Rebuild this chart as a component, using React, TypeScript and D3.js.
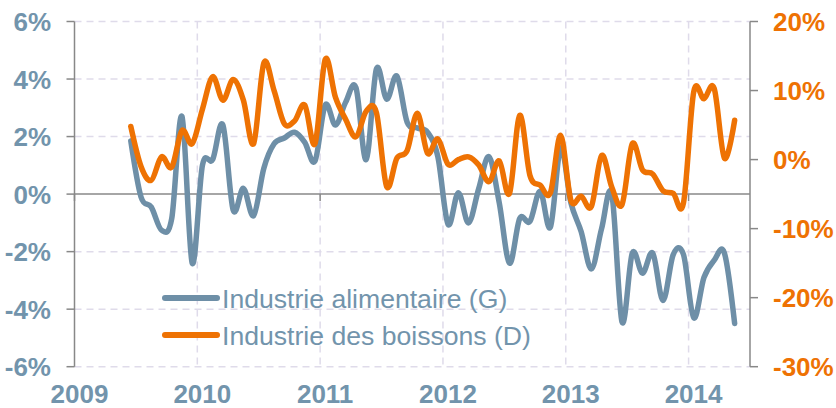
import React from "react";
import * as d3 from "d3";

const years = ["2009", "2010", "2011", "2012", "2013", "2014"];
const leftTicks = [-6, -4, -2, 0, 2, 4, 6];
const rightTicks = [-30, -20, -10, 0, 10, 20];
const seriesNames = ["Industrie alimentaire (G)", "Industrie des boissons (D)"];
// monthly, 2009-06 .. 2014-05
const alimentaire = [1.85, -0.1, -0.45, -1.25, -0.85, 2.7, -2.4, 1.0, 1.2, 2.4, -0.55, 0.2, -0.75, 0.9, 1.75, 1.95, 2.15, 1.8, 1.15, 3.1, 2.4, 3.2, 3.7, 1.2, 4.35, 3.3, 4.1, 2.5, 2.3, 2.15, 1.3, -1.05, 0.05, -1.0, 0.2, 1.3, -0.3, -2.4, -0.85, -0.95, 0.1, -1.15, 1.6, -0.3, -1.3, -2.6, -1.2, 0.0, -4.45, -2.05, -2.75, -2.05, -3.7, -2.1, -2.1, -4.3, -2.9, -2.3, -2.05, -4.5];
const boissons = [4.8, -1.0, -3.0, 0.4, -1.1, 4.2, 2.3, 7.3, 12.0, 8.6, 11.6, 8.6, 2.3, 14.0, 10.0, 5.2, 5.6, 7.9, 2.3, 14.5, 9.0, 5.8, 3.3, 7.0, 6.8, -3.9, 0.2, 1.3, 6.7, 0.9, 3.0, -0.7, 0.0, 0.4, -0.8, -3.2, -0.2, -4.9, 6.4, -2.3, -3.7, -4.8, 3.5, -5.9, -5.3, -6.8, 0.6, -4.0, -6.5, 2.3, -1.5, -2.1, -4.5, -4.9, -6.3, 9.8, 8.8, 10.3, 0.2, 5.7];
const startMonthOffset = 5; // June 2009

const BLUE = "#6e8fa7";
const BLUE_TXT = "#7294ac";
const ORANGE = "#ee7203";
const GRID = "#dfdbea";
const AXIS = "#888888";

export default function App() {
  const x = d3.scaleLinear().domain([0, 66]).range([74.5, 750]);
  const yL = d3.scaleLinear().domain([-6, 6]).range([366.7, 21.5]);
  const yR = d3.scaleLinear().domain([-30, 20]).range([366.7, 21.5]);
  const curve = d3.curveCardinal.tension(0);
  const lineL = d3
    .line<number>()
    .x((_, i) => x(startMonthOffset + i + 0.5))
    .y((d) => yL(d))
    .curve(curve);
  const lineR = d3
    .line<number>()
    .x((_, i) => x(startMonthOffset + i + 0.5))
    .y((d) => yR(d))
    .curve(curve);
  const font = "Liberation Sans, Arial, sans-serif";
  const x0 = x(0);
  const x1 = x(66);

  return (
    <svg
      width={836}
      height={408}
      style={{ position: "absolute", left: 0, top: 0, display: "block" }}
      fontFamily={font}
    >
      <rect width={836} height={408} fill="#fff" />
      {leftTicks
        .filter((t) => t !== 0)
        .map((t) => (
          <line key={"hg" + t} x1={x0} x2={x1} y1={yL(t)} y2={yL(t)} stroke={GRID} strokeWidth={1.5} strokeDasharray="7,5" />
        ))}
      {years.slice(1).map((_, i) => (
        <line key={"vg" + i} x1={x((i + 1) * 12)} x2={x((i + 1) * 12)} y1={yL(6)} y2={yL(-6)} stroke={GRID} strokeWidth={1.5} strokeDasharray="7,5" />
      ))}
      <line x1={x0} x2={x1} y1={yL(0)} y2={yL(0)} stroke={AXIS} strokeWidth={1.5} />
      {years.map((_, i) => (
        <line key={"xt" + i} x1={x(i * 12)} x2={x(i * 12)} y1={yL(0)} y2={yL(0) + 7} stroke={AXIS} strokeWidth={1.5} />
      ))}
      <line x1={x0} x2={x0} y1={yL(6)} y2={yL(-6)} stroke={AXIS} strokeWidth={1.5} />
      {leftTicks.map((t) => (
        <g key={"lt" + t}>
          <line x1={x0 - 8} x2={x0} y1={yL(t)} y2={yL(t)} stroke={AXIS} strokeWidth={1.5} />
          <text x={51} y={yL(t) + 9.5} textAnchor="end" fontSize={26} fontWeight="bold" fill={BLUE_TXT}>
            {t + "%"}
          </text>
        </g>
      ))}
      <line x1={x1} x2={x1} y1={yR(20)} y2={yR(-30)} stroke={AXIS} strokeWidth={1.5} />
      {rightTicks.map((t) => (
        <g key={"rt" + t}>
          <line x1={x1} x2={x1 + 8} y1={yR(t)} y2={yR(t)} stroke={AXIS} strokeWidth={1.5} />
          <text x={773} y={yR(t) + 9.5} textAnchor="start" fontSize={26} fontWeight="bold" fill={ORANGE}>
            {t + "%"}
          </text>
        </g>
      ))}
      {years.map((yr, i) => (
        <text key={yr} x={x(i * 12) + 5} y={403} textAnchor="middle" fontSize={26} fontWeight="bold" fill={BLUE_TXT}>
          {yr}
        </text>
      ))}
      <path d={lineL(alimentaire) || ""} fill="none" stroke={BLUE} strokeWidth={5.5} strokeLinejoin="round" strokeLinecap="round" />
      <path d={lineR(boissons) || ""} fill="none" stroke={ORANGE} strokeWidth={5.5} strokeLinejoin="round" strokeLinecap="round" />
      <line x1={165} x2={217} y1={298} y2={298} stroke={BLUE} strokeWidth={6} strokeLinecap="round" />
      <text x={222} y={307.5} fontSize={26.6} fill={BLUE_TXT}>
        {seriesNames[0]}
      </text>
      <line x1={165} x2={217} y1={335} y2={335} stroke={ORANGE} strokeWidth={6} strokeLinecap="round" />
      <text x={222} y={344.5} fontSize={26.6} fill={BLUE_TXT}>
        {seriesNames[1]}
      </text>
    </svg>
  );
}
